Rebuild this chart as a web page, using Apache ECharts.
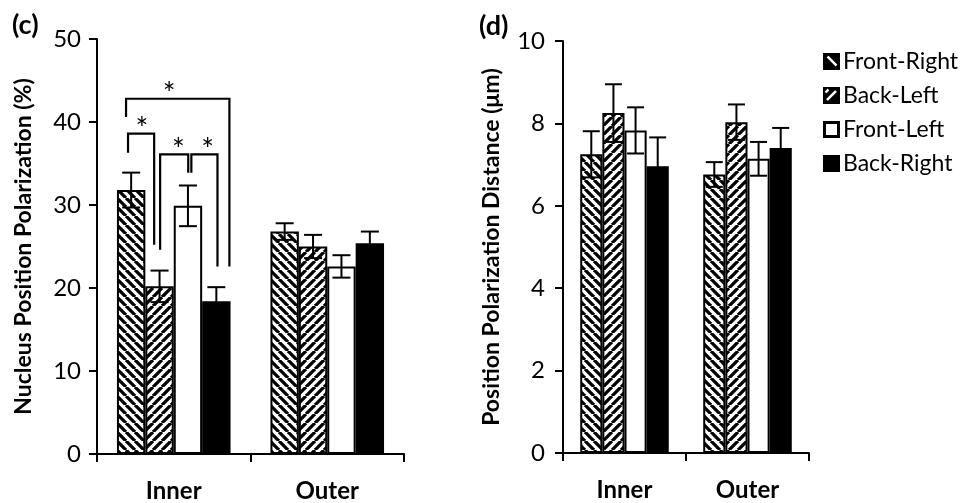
<!DOCTYPE html>
<html><head><meta charset="utf-8">
<script src="https://cdn.jsdelivr.net/npm/echarts@6/dist/echarts.min.js"></script>
<style>html,body{margin:0;padding:0;background:#fff}#c{width:965px;height:503px}</style>
</head><body><div id="c"></div>
<script>
// ---- data ----
const categories = ['Inner', 'Outer'];
const seriesNames = ['Front-Right', 'Back-Left', 'Front-Left', 'Back-Right'];

// panel (c): Nucleus Position Polarization (%)
const polFrontRight = [31.8, 26.8];
const polBackLeft   = [20.2, 25.0];
const polFrontLeft  = [29.9, 22.6];
const polBackRight  = [18.4, 25.4];
const polFrontRightErr = [2.1, 1.0];
const polBackLeftErr   = [1.9, 1.4];
const polFrontLeftErr  = [2.45, 1.35];
const polBackRightErr  = [1.7, 1.4];

// panel (d): Position Polarization Distance (µm)
const distFrontRight = [7.25, 6.76];
const distBackLeft   = [8.25, 8.03];
const distFrontLeft  = [7.83, 7.14];
const distBackRight  = [6.96, 7.40];
const distFrontRightErr = [0.56, 0.30];
const distBackLeftErr   = [0.70, 0.43];
const distFrontLeftErr  = [0.56, 0.41];
const distBackRightErr  = [0.70, 0.49];

const polTicks = [0, 10, 20, 30, 40, 50];
const distTicks = [0, 2, 4, 6, 8, 10];

// significance brackets in panel (c), Inner group: [xLeft, xRight (bar units), yLeft, yTop, yRight, starX]
const sigBrackets = [
  [0.32, 3.96, 40.6, 42.8, 22.6, 1.84],
  [0.39, 1.31, 36.3, 38.6, 25.2, 0.88],
  [1.52, 2.51, 24.6, 36.1, 33.9, 2.16],
  [2.62, 3.54, 33.9, 36.1, 22.6, 3.19]
];

// ---- styles ----
function stripePattern(dir) {
  const s = 9;
  const c = document.createElement('canvas');
  c.width = s; c.height = s;
  const ctx = c.getContext('2d');
  ctx.fillStyle = '#fff'; ctx.fillRect(0, 0, s, s);
  ctx.strokeStyle = '#000'; ctx.lineWidth = 3.3;
  ctx.beginPath();
  for (let k = -1; k <= 1; k++) {
    if (dir === 'down') { ctx.moveTo(k * s, 0); ctx.lineTo(k * s + s, s); }
    else { ctx.moveTo(k * s, s); ctx.lineTo(k * s + s, 0); }
  }
  ctx.stroke();
  return { image: c, repeat: 'repeat' };
}
function legendIcon(kind) {
  const s = 34;
  const c = document.createElement('canvas');
  c.width = s; c.height = s;
  const ctx = c.getContext('2d');
  if (kind === 'white') {
    ctx.fillStyle = '#000'; ctx.fillRect(0, 0, s, s);
    ctx.fillStyle = '#fff'; ctx.fillRect(6, 6, s - 12, s - 12);
  } else {
    ctx.fillStyle = '#000'; ctx.fillRect(0, 0, s, s);
    if (kind !== 'black') {
      ctx.strokeStyle = '#fff'; ctx.lineWidth = 5;
      ctx.beginPath();
      if (kind === 'down') { ctx.moveTo(9, 7); ctx.lineTo(27, 25); }
      else { ctx.moveTo(8, 26); ctx.lineTo(26, 8); ctx.moveTo(5, 11); ctx.lineTo(11, 5); }
      ctx.stroke();
    }
  }
  return 'image://' + c.toDataURL();
}
const fills = [stripePattern('down'), stripePattern('up'), '#ffffff', '#000000'];
const iconKinds = ['down', 'up', 'white', 'black'];
const FONT = 'Lato';

const polMeans = [polFrontRight, polBackLeft, polFrontLeft, polBackRight];
const polErrs = [polFrontRightErr, polBackLeftErr, polFrontLeftErr, polBackRightErr];
const distMeans = [distFrontRight, distBackLeft, distFrontLeft, distBackRight];
const distErrs = [distFrontRightErr, distBackLeftErr, distFrontLeftErr, distBackRightErr];

const gaps = [0.26, 0.28];

function errData(means, errs) {
  const out = [];
  categories.forEach((c, ci) => means.forEach((m, bi) => out.push([ci, bi, m[ci], errs[bi][ci]])));
  return out;
}

function barGeom(api, ci, gap) {
  const center = api.coord([ci, 0])[0];
  const band = api.size([1, 0])[0];
  const bw = band * (1 - gap) / 4;
  return { left: center - 2 * bw, bw: bw };
}

function errRender(gap, cap) {
  return function (params, api) {
    const ci = api.value(0), bi = api.value(1), m = api.value(2), e = api.value(3);
    const g = barGeom(api, ci, gap);
    const x = g.left + (bi + 0.5) * g.bw;
    const yHi = api.coord([ci, m + e])[1];
    const yLo = api.coord([ci, m - e])[1];
    const st = { stroke: '#000', lineWidth: 2 };
    return { type: 'group', children: [
      { type: 'line', shape: { x1: x, y1: yHi, x2: x, y2: yLo }, style: st },
      { type: 'line', shape: { x1: x - cap / 2, y1: yHi, x2: x + cap / 2, y2: yHi }, style: st },
      { type: 'line', shape: { x1: x - cap / 2, y1: yLo, x2: x + cap / 2, y2: yLo }, style: st }
    ]};
  };
}

function bracketRender(params, api) {
  const x1f = api.value(0), x2f = api.value(1), yl = api.value(2), yt = api.value(3), yr = api.value(4), sx = api.value(5);
  const g = barGeom(api, 0, gaps[0]);
  const X1 = g.left + x1f * g.bw, X2 = g.left + x2f * g.bw, XS = g.left + sx * g.bw;
  const Yl = api.coord([0, yl])[1], Yt = api.coord([0, yt])[1], Yr = api.coord([0, yr])[1];
  return { type: 'group', children: [
    { type: 'polyline', shape: { points: [[X1, Yl], [X1, Yt], [X2, Yt], [X2, Yr]] }, style: { stroke: '#000', lineWidth: 2.2, fill: null } },
    { type: 'text', x: XS, y: Yt + 11, style: { text: '*', fill: '#000', font: '30px ' + FONT, textAlign: 'center', textVerticalAlign: 'bottom' } }
  ]};
}

const series = [];
seriesNames.forEach((n, i) => {
  series.push({ name: n, type: 'bar', xAxisIndex: 0, yAxisIndex: 0, data: polMeans[i], barGap: '0%', barCategoryGap: (gaps[0] * 100) + '%',
    itemStyle: { color: fills[i], borderColor: '#000', borderWidth: 2 }, animation: false, emphasis: { disabled: true } });
});
seriesNames.forEach((n, i) => {
  series.push({ name: n, type: 'bar', xAxisIndex: 1, yAxisIndex: 1, data: distMeans[i], barGap: '0%', barCategoryGap: (gaps[1] * 100) + '%',
    itemStyle: { color: fills[i], borderColor: '#000', borderWidth: 2 }, animation: false, emphasis: { disabled: true } });
});
series.push({ name: 'errC', type: 'custom', xAxisIndex: 0, yAxisIndex: 0, data: errData(polMeans, polErrs), encode: { x: 0, y: 2 }, renderItem: errRender(gaps[0], 18), z: 5, animation: false, silent: true });
series.push({ name: 'errD', type: 'custom', xAxisIndex: 1, yAxisIndex: 1, data: errData(distMeans, distErrs), encode: { x: 0, y: 2 }, renderItem: errRender(gaps[1], 17), z: 5, animation: false, silent: true });
series.push({ name: 'sig', type: 'custom', xAxisIndex: 0, yAxisIndex: 0, data: sigBrackets, encode: { y: 3 }, renderItem: bracketRender, z: 6, animation: false, silent: true, clip: false });

const axisLineStyle = { lineStyle: { color: '#000', width: 2 } };
const tickStyle = { lineStyle: { color: '#000', width: 2 }, length: 8 };

function xAx(gi) {
  return { type: 'category', gridIndex: gi, data: categories, axisLine: axisLineStyle, axisTick: Object.assign({ show: true }, tickStyle),
    axisLabel: { color: '#000', fontFamily: FONT, fontSize: 24, fontWeight: 'bold', margin: 25 } };
}
function yAx(gi, ticks, name, gap, lm) {
  return { type: 'value', gridIndex: gi, min: ticks[0], max: ticks[ticks.length - 1], interval: ticks[1] - ticks[0],
    name: name, nameLocation: 'middle', nameGap: gap, nameTextStyle: { color: '#000', fontFamily: FONT, fontSize: 23, fontWeight: 'bold' },
    axisLine: Object.assign({ show: true }, axisLineStyle), axisTick: Object.assign({ show: true }, tickStyle), splitLine: { show: false },
    axisLabel: { color: '#000', fontFamily: FONT, fontSize: 24, margin: lm } };
}

const option = {
  backgroundColor: '#fff',
  animation: false,
  grid: [
    { left: 97, top: 39, width: 307, height: 416 },
    { left: 563, top: 41, width: 246, height: 412 }
  ],
  xAxis: [xAx(0), xAx(1)],
  yAxis: [yAx(0, polTicks, 'Nucleus Position Polarization (%)', 62, 16), yAx(1, distTicks, 'Position Polarization Distance (μm)', 60, 18)],
  legend: { data: seriesNames.map((n, i) => ({ name: n, icon: legendIcon(iconKinds[i]) })), orient: 'vertical', left: 818, top: 45,
    itemWidth: 17, itemHeight: 17, itemGap: 11,
    textStyle: { color: '#000', fontFamily: FONT, fontSize: 23, padding: [0, 0, 0, -2] }, selectedMode: false },
  graphic: [
    { type: 'text', left: 12, top: 12, style: { text: '(c)', font: 'bold 27px ' + FONT, fill: '#000' } },
    { type: 'text', left: 479, top: 13, style: { text: '(d)', font: 'bold 27px ' + FONT, fill: '#000' } }
  ],
  series: series
};
const chart = echarts.init(document.getElementById('c'), null, { renderer: 'canvas' });
chart.setOption(option);
</script></body></html>
